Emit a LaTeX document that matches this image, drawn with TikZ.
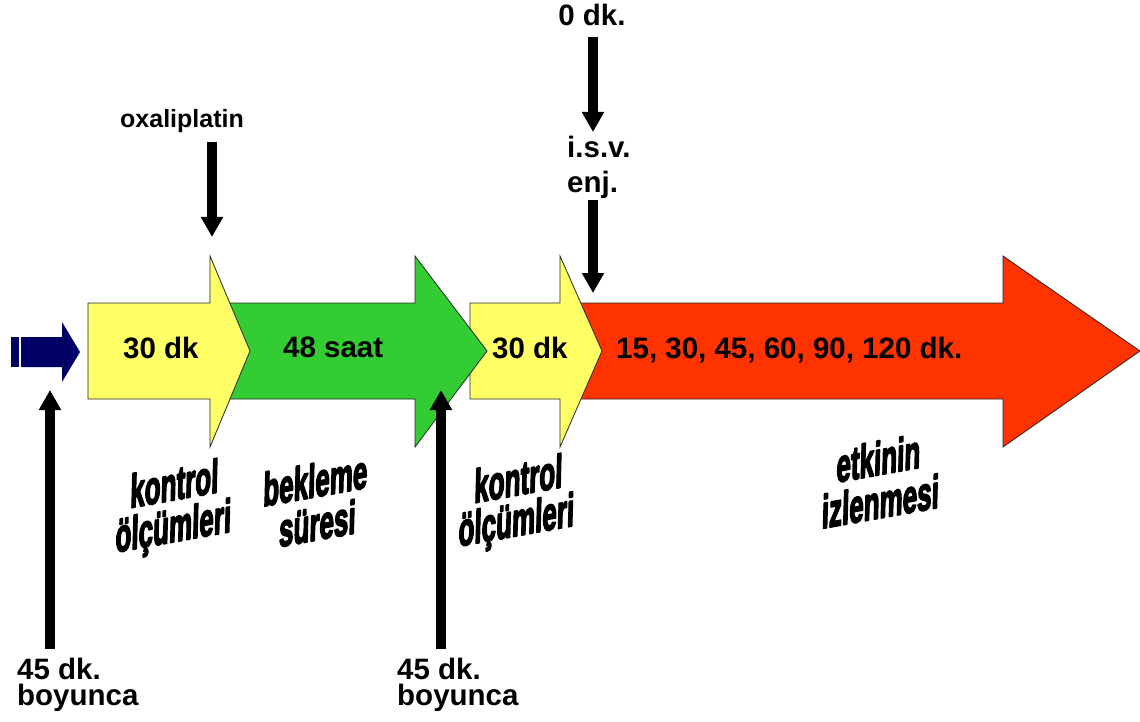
\documentclass[tikz,border=0pt]{standalone}
\usepackage{fontspec}
\setmainfont{Liberation Sans}
\newfontfamily\heavyfont{Liberation Sans}[UprightFont={* Bold}]
\newcommand\heavytext[1]{\special{pdf:literal direct 2 Tr 1.1 w 1 j}#1\special{pdf:literal direct 0 Tr}}
\usetikzlibrary{arrows.meta}
\definecolor{yel}{HTML}{FFFF66}
\definecolor{grn}{HTML}{33CC33}
\definecolor{rd}{HTML}{FF3300}
\definecolor{nv}{HTML}{000066}
\begin{document}
\begin{tikzpicture}[x=1pt,y=-1pt,
  bigarrow/.style={draw=black!85,line width=0.8pt,line join=miter},
  lab/.style={font=\bfseries\fontsize{29.5}{26}\selectfont,inner sep=0pt},
  smalllab/.style={font=\bfseries\fontsize{25}{30}\selectfont,inner sep=0pt},
  heavy/.style={font=\heavyfont\fontsize{26}{30}\selectfont,inner sep=0pt,anchor=base,
    yslant=0.18,yscale=1.8,xslant=0.05},
  blk/.style={line width=10.5pt,-{Triangle[length=20pt,width=21pt]}}]
\useasboundingbox (0,0) rectangle (1140,722);
% big arrows (back to front)
\path[bigarrow,fill=rd] (580,303) -- (1003,303) -- (1003,256) -- (1140,351) -- (1003,447) -- (1003,399) -- (580,399) -- cycle;
\path[bigarrow,fill=yel] (470,303) -- (560,303) -- (560,256) -- (602,351) -- (560,447) -- (560,399) -- (470,399) -- cycle;
\path[bigarrow,fill=grn] (230,303) -- (415,303) -- (415,256) -- (487,351) -- (415,447) -- (415,399) -- (230,399) -- cycle;
\path[bigarrow,fill=yel] (88,303) -- (210,303) -- (210,256) -- (250,351) -- (210,447) -- (210,399) -- (88,399) -- cycle;
% small navy arrow
\fill[nv] (11,337) rectangle (19,367);
\fill[nv] (21,337) -- (62,337) -- (62,322) -- (80,352) -- (62,382) -- (62,367) -- (21,367) -- cycle;
% texts inside arrows
\node[lab,anchor=base west] (t1) at (123,358) {30 dk};
\node[lab,anchor=base west] (t2) at (283,357) {48 saat};
\node[lab,anchor=base west] (t3) at (492,358) {30 dk};
\node[lab,anchor=base west] (t4) at (616,358) {15, 30, 45, 60, 90, 120 dk.};
% top labels
\node[smalllab,anchor=base west] (oxa) at (120,128) {oxaliplatin};
\node[lab,anchor=base] (zero) at (592,26) {0 dk.};
\node[lab,anchor=base west] (isv) at (567,158) {i.s.v.};
\node[lab,anchor=base west] (enj) at (567,193) {enj.};
% bottom labels
\node[lab,anchor=south west,align=left] (b1) at (17,712) {45 dk.\\boyunca};
\node[lab,anchor=south west,align=left] (b2) at (397,712) {45 dk.\\boyunca};
% black arrows
\coordinate (oxs) at (212,142); \coordinate (oxe) at (212,237);
\coordinate (zs) at (593,37); \coordinate (ze) at (593,132);
\coordinate (es) at (593,200); \coordinate (ee) at (593,293);
\coordinate (u1e) at (50,390);
\coordinate (u2e) at (441,390);
\draw[blk] (oxs) -- (oxe);
\draw[blk] (zs) -- (ze);
\draw[blk] (es) -- (ee);
\draw[blk] ([yshift=9pt]b1.north -| u1e) -- (u1e);
\draw[blk] ([yshift=9pt]b2.north -| u2e) -- (u2e);
% slanted labels
\node[heavy] (k1a) at (174,500) {\heavytext{kontrol}};
\node[heavy] (k1b) at (173,542) {\heavytext{ölçümleri}};
\node[heavy] (bka) at (315,497) {\heavytext{bekleme}};
\node[heavy] (bkb) at (317,540) {\heavytext{süresi}};
\node[heavy] (k2a) at (518,495) {\heavytext{kontrol}};
\node[heavy] (k2b) at (516,536) {\heavytext{ölçümleri}};
\node[heavy] (eta) at (878,475) {\heavytext{etkinin}};
\node[heavy] (etb) at (880,518) {\heavytext{izlenmesi}};
\end{tikzpicture}
\end{document}
